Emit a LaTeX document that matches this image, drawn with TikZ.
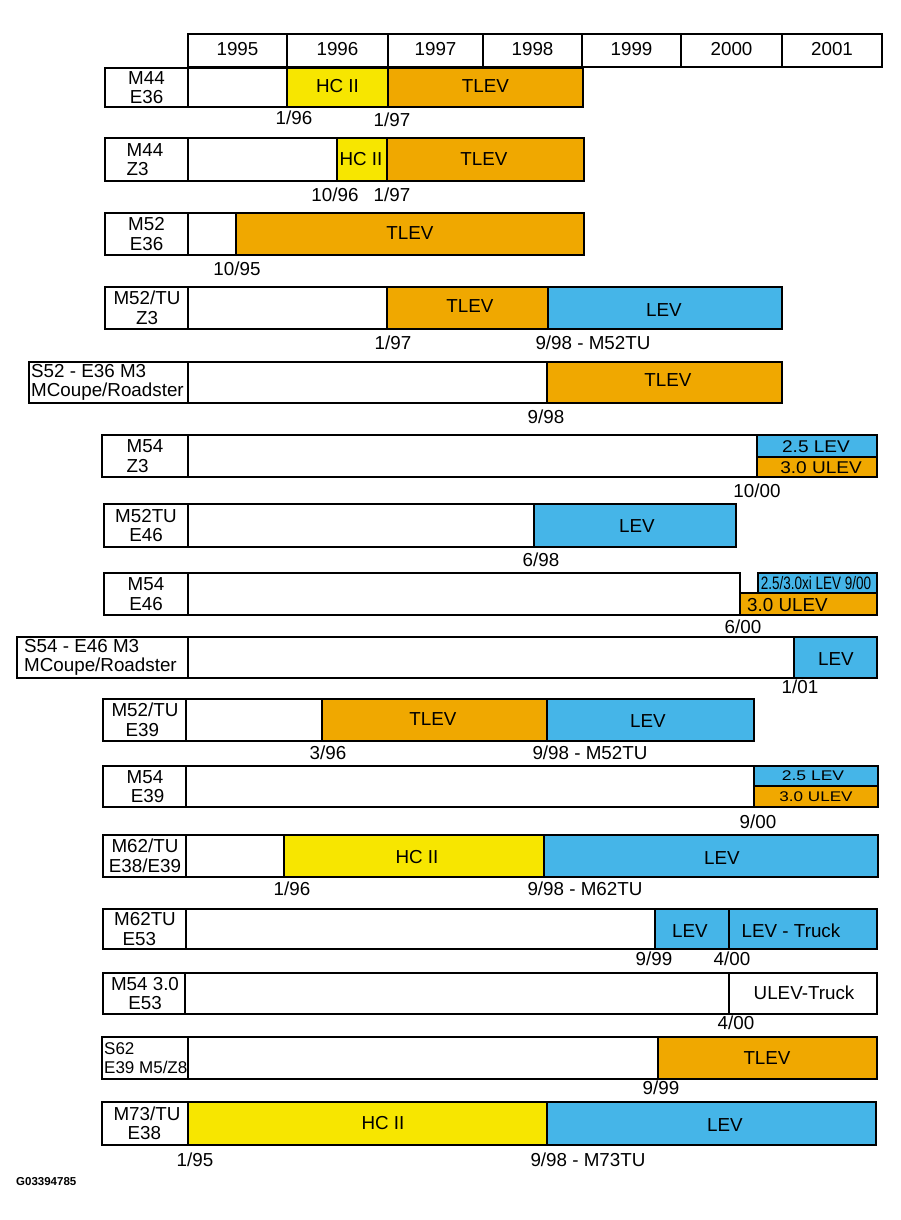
\documentclass[tikz,border=0pt]{standalone}
\usepackage{fontspec}
\setmainfont{Liberation Sans}
\definecolor{hcy}{HTML}{F7E600}
\definecolor{tlo}{HTML}{F0A800}
\definecolor{levb}{HTML}{45B5E8}
\tikzset{
  bx/.style={draw=black, line width=1.5pt},
  t/.style={inner sep=0pt, font=\fontsize{18.8}{19.5}\selectfont},
  lab/.style={t, align=center},
  labl/.style={t, align=left, anchor=west},
}
\begin{document}
\begin{tikzpicture}[x=1pt,y=-1pt]
\fill[white] (0,0) rectangle (900,1220);
\useasboundingbox (0,0) rectangle (900,1220);

% header
\draw[bx] (188,34) rectangle (882,67);
\foreach \x in {287,388,483,582,681,782} \draw[bx] (\x,34) -- (\x,67);
\node[t] (y95) at (237.5,49.5) {1995};
\node[t] (y96) at (337.5,49.5) {1996};
\node[t] (y97) at (435.5,49.5) {1997};
\node[t] (y98) at (532.5,49.5) {1998};
\node[t] (y99) at (631.5,49.5) {1999};
\node[t] (y00) at (731.5,49.5) {2000};
\node[t] (y01) at (832,49.5) {2001};

% row 1
\draw[bx] (105,68) rectangle (583,107);
\draw[bx] (188,68) -- (188,107);
\draw[bx,fill=hcy] (287,68) rectangle (388,107);
\draw[bx,fill=tlo] (388,68) rectangle (583,107);
\node[lab] (l1) at (146.5,87.5) {M44\\E36};
\node[t] (s1a) at (337.5,86) {HC II};
\node[t] (s1b) at (485.5,86) {TLEV};
\node[t] (d1a) at (294,118) {1/96};
\node[t] (d1b) at (392,120) {1/97};

% row 2
\draw[bx] (105,138) rectangle (584,181);
\draw[bx] (188,138) -- (188,181);
\draw[bx,fill=hcy] (337,138) rectangle (387,181);
\draw[bx,fill=tlo] (387,138) rectangle (584,181);
\node[t, align=left] (l2) at (145,159.5) {M44\\Z3};
\node[t] (s2a) at (361,159) {HC II};
\node[t] (s2b) at (484,159) {TLEV};
\node[t] (d2a) at (335,195) {10/96};
\node[t] (d2b) at (392,195) {1/97};

% row 3
\draw[bx] (105,213) rectangle (584,255);
\draw[bx] (188,213) -- (188,255);
\draw[bx,fill=tlo] (236,213) rectangle (584,255);
\node[lab] (l3) at (146.5,234) {M52\\E36};
\node[t] (s3a) at (410,233) {TLEV};
\node[t] (d3a) at (237,269) {10/95};

% row 4
\draw[bx] (105,287) rectangle (782,329);
\draw[bx] (188,287) -- (188,329);
\draw[bx,fill=tlo] (387,287) rectangle (548,329);
\draw[bx,fill=levb] (548,287) rectangle (782,329);
\node[lab] (l4) at (147,308) {M52/TU\\Z3};
\node[t] (s4a) at (470,306) {TLEV};
\node[t] (s4b) at (664,310) {LEV};
\node[t] (d4a) at (393,343) {1/97};
\node[t] (d4b) at (593,343) {9/98 - M52TU};

% row 5
\draw[bx] (29,362) rectangle (782,403);
\draw[bx] (188,362) -- (188,403);
\draw[bx,fill=tlo] (547,362) rectangle (782,403);
\node[labl] (l5) at (31,382.5) {S52 - E36 M3\\MCoupe/Roadster};
\node[t] (s5a) at (668,380) {TLEV};
\node[t] (d5a) at (546,417) {9/98};

% row 6
\draw[bx] (102,435) rectangle (757,477);
\draw[bx] (188,435) -- (188,477);
\draw[bx,fill=levb] (757,435) rectangle (877,457);
\draw[bx,fill=tlo] (757,457) rectangle (877,477);
\node[t, align=left] (l6) at (145,456) {M54\\Z3};
\node[t, font=\fontsize{17}{19}\selectfont] (s6a) at (816,447) {\scalebox{1.12}[1]{2.5 LEV}};
\node[t, font=\fontsize{17}{19}\selectfont] (s6b) at (821,468) {\scalebox{1.12}[1]{3.0 ULEV}};
\node[t] (d6a) at (757,491) {10/00};

% row 7
\draw[bx] (104,504) rectangle (736,547);
\draw[bx] (188,504) -- (188,547);
\draw[bx,fill=levb] (534,504) rectangle (736,547);
\node[lab] (l7) at (146,525.5) {M52TU\\E46};
\node[t] (s7a) at (637,526) {LEV};
\node[t] (d7a) at (541,560) {6/98};

% row 8
\draw[bx] (104,573) rectangle (740,615);
\draw[bx] (188,573) -- (188,615);
\draw[bx,fill=tlo] (740,593) rectangle (877,615);
\draw[bx,fill=levb] (758,573) rectangle (877,593);
\node[lab] (l8) at (146,594) {M54\\E46};
\node[t, font=\fontsize{18}{19}\selectfont] (s8a) at (816,583) {\scalebox{0.75}[1]{2.5/3.0xi LEV 9/00}};
\node[t, anchor=west] (s8b) at (747,605) {3.0 ULEV};
\node[t] (d8a) at (743,627) {6/00};

% row 9
\draw[bx] (17,637) rectangle (877,678);
\draw[bx] (188,637) -- (188,678);
\draw[bx,fill=levb] (794,637) rectangle (877,678);
\node[labl] (l9) at (24,657.5) {S54 - E46 M3\\MCoupe/Roadster};
\node[t] (s9a) at (836,659) {LEV};
\node[t] (d9a) at (800,687) {1/01};

% row 10
\draw[bx] (103,699) rectangle (754,741);
\draw[bx] (186,699) -- (186,741);
\draw[bx,fill=tlo] (322,699) rectangle (547,741);
\draw[bx,fill=levb] (547,699) rectangle (754,741);
\node[lab] (l10) at (145,720) {M52/TU\\E39\hphantom{/}};
\node[t] (s10a) at (433,719) {TLEV};
\node[t] (s10b) at (648,721) {LEV};
\node[t] (d10a) at (328,753) {3/96};
\node[t] (d10b) at (590,753) {9/98 - M52TU};

% row 11
\draw[bx] (103,766) rectangle (754,807);
\draw[bx] (186,766) -- (186,807);
\draw[bx,fill=levb] (754,766) rectangle (878,786);
\draw[bx,fill=tlo] (754,786) rectangle (878,807);
\node[lab] (l11) at (145,786.5) {M54\\\hphantom{.}E39};
\node[t, font=\fontsize{14}{16}\selectfont] (s11a) at (813,776) {\scalebox{1.25}[1]{2.5 LEV}};
\node[t, font=\fontsize{14}{16}\selectfont] (s11b) at (816,797) {\scalebox{1.22}[1]{3.0 ULEV}};
\node[t] (d11a) at (758,822) {9/00};

% row 12
\draw[bx] (103,835) rectangle (878,877);
\draw[bx] (186,835) -- (186,877);
\draw[bx,fill=hcy] (284,835) rectangle (544,877);
\draw[bx,fill=levb] (544,835) rectangle (878,877);
\node[lab] (l12) at (145,856) {M62/TU\\E38/E39};
\node[t] (s12a) at (417,857) {HC II};
\node[t] (s12b) at (722,858) {LEV};
\node[t] (d12a) at (292,889) {1/96};
\node[t] (d12b) at (585,889) {9/98 - M62TU};

% row 13
\draw[bx] (103,909) rectangle (877,949);
\draw[bx] (186,909) -- (186,949);
\draw[bx,fill=levb] (655,909) rectangle (729,949);
\draw[bx,fill=levb] (729,909) rectangle (877,949);
\node[lab] (l13) at (145,929) {M62TU\\E53\hphantom{T}};
\node[t] (s13a) at (690,931) {LEV};
\node[t] (s13b) at (791,931) {LEV - Truck};
\node[t] (d13a) at (654,959) {9/99};
\node[t] (d13b) at (732,959) {4/00};

% row 14
\draw[bx] (103,973) rectangle (877,1014);
\draw[bx] (185,973) -- (185,1014);
\draw[bx] (729,973) -- (729,1014);
\node[lab] (l14) at (145,993.5) {M54 3.0\\E53};
\node[t] (s14a) at (804,993) {ULEV-Truck};
\node[t] (d14a) at (736,1023) {4/00};

% row 15
\draw[bx] (102,1037) rectangle (877,1079);
\draw[bx] (188,1037) -- (188,1079);
\draw[bx,fill=tlo] (658,1037) rectangle (877,1079);
\node[labl, font=\fontsize{17}{19}\selectfont] (l15) at (104,1058) {S62\\E39 M5/Z8};
\node[t] (s15a) at (767,1058) {TLEV};
\node[t] (d15a) at (661,1087.5) {9/99};

% row 16
\draw[bx] (102,1102) rectangle (876,1145);
\draw[bx,fill=hcy] (188,1102) rectangle (547,1145);
\draw[bx,fill=levb] (547,1102) rectangle (876,1145);
\node[lab] (l16) at (147,1123.5) {M73/TU\\E38\hphantom{/}};
\node[t] (s16a) at (383,1123) {HC II};
\node[t] (s16b) at (725,1125) {LEV};
\node[t] (d16a) at (195,1160) {1/95};
\node[t] (d16b) at (588,1160) {9/98 - M73TU};

% code
\node[inner sep=0pt, anchor=west, font=\fontsize{11.5}{13}\selectfont\bfseries] (code) at (16,1182) {G03394785};
\end{tikzpicture}
\end{document}
